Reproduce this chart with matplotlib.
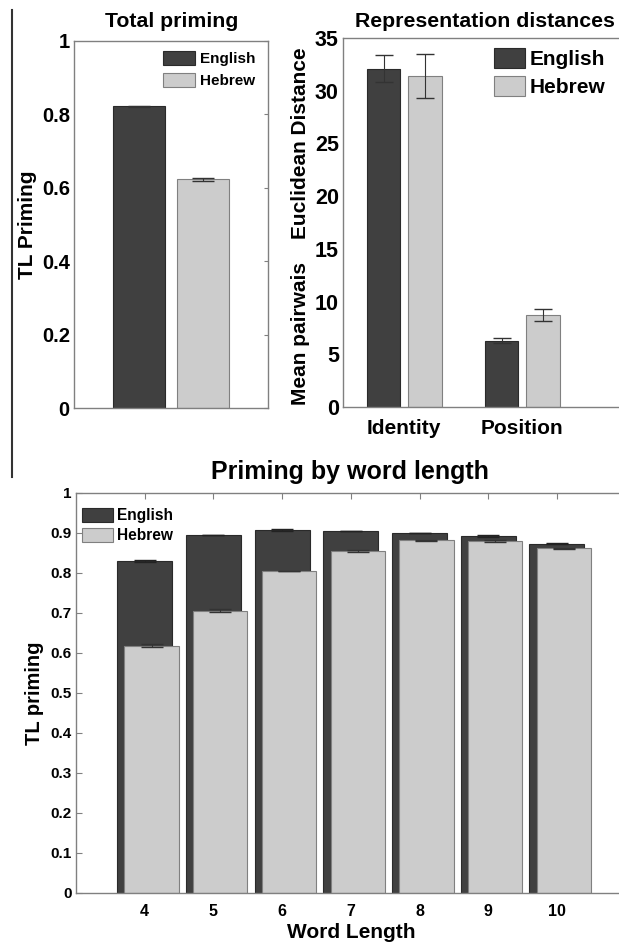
import matplotlib
matplotlib.use("Agg")
import matplotlib.pyplot as plt
from matplotlib.lines import Line2D
import numpy as np

plt.rcParams['font.family'] = ['Liberation Sans', 'DejaVu Sans']
plt.rcParams['font.weight'] = 'bold'

# ---- data ----
languages = ['English', 'Hebrew']
total_priming = [0.822, 0.623]
total_priming_err = [0.002, 0.005]

dist_groups = ['Identity', 'Position']
dist_english = [32.1, 6.3]
dist_english_err = [1.3, 0.2]
dist_hebrew = [31.4, 8.7]
dist_hebrew_err = [2.1, 0.55]

word_lengths = [4, 5, 6, 7, 8, 9, 10]
len_english = [0.830, 0.895, 0.908, 0.905, 0.900, 0.893, 0.873]
len_english_err = [0.002, 0.001, 0.002, 0.001, 0.001, 0.002, 0.001]
len_hebrew = [0.618, 0.706, 0.805, 0.855, 0.882, 0.880, 0.862]
len_hebrew_err = [0.004, 0.003, 0.001, 0.003, 0.001, 0.002, 0.001]

dark = '#404040'
light = '#cccccc'
spine_col = '#808080'
W, H = 619, 942


def px_axes(l, t, r, b):
    return [l / W, 1 - b / H, (r - l) / W, (b - t) / H]


def style_spines(ax):
    for s in ax.spines.values():
        s.set_color(spine_col)
        s.set_linewidth(1.0)


fig = plt.figure(figsize=(W / 100, H / 100), dpi=100)

# left separator line
fig.add_artist(Line2D([12 / W, 12 / W], [1 - 10 / H, 1 - 477 / H], color='#333333', lw=1.5))

# ---- top-left: total priming ----
ax1 = fig.add_axes(px_axes(74, 41, 268, 408))
ax1.set_axisbelow(True)
ax1.bar(1 - 0.165, total_priming[0], 0.268, color=dark, edgecolor='#2a2a2a', lw=0.8, label=languages[0])
ax1.bar(1 + 0.165, total_priming[1], 0.268, color=light, edgecolor='#808080', lw=0.8, label=languages[1])
ax1.errorbar([1 - 0.165, 1 + 0.165], total_priming, yerr=total_priming_err, fmt='none',
             ecolor='#333333', elinewidth=0.8, capsize=8)
ax1.set_xlim(0.5, 1.5)
ax1.set_ylim(0, 1)
ax1.set_xticks([])
ax1.set_yticks(np.arange(0, 1.01, 0.2))
ax1.set_yticklabels(['0', '0.2', '0.4', '0.6', '0.8', '1'], fontsize=14.5, fontweight='bold')
ax1.tick_params(axis='y', direction='in', left=False, right=True, length=3, color=spine_col, pad=3)
ax1.set_ylabel('TL Priming', fontsize=15, fontweight='bold')
ax1.yaxis.set_label_coords(-0.19, 0.5)
style_spines(ax1)
ax1.legend(loc='upper left', bbox_to_anchor=(0.459, 0.972), frameon=False,
           handlelength=2.1, handleheight=1.0, labelspacing=0.45, handletextpad=0.3,
           borderpad=0, borderaxespad=0, prop={'weight': 'bold', 'size': 11})
fig.text(172 / W, 1 - 27 / H, 'Total priming', ha='center', va='baseline', fontsize=15.3, fontweight='bold')

# ---- top-right: representation distances ----
ax2 = fig.add_axes(px_axes(343, 38, 640, 407))
ax2.set_axisbelow(True)
x2 = np.arange(1, len(dist_groups) + 1)
ax2.bar(x2 - 0.175, dist_english, 0.285, color=dark, edgecolor='#2a2a2a', lw=0.8, label=languages[0])
ax2.bar(x2 + 0.175, dist_hebrew, 0.285, color=light, edgecolor='#808080', lw=0.8, label=languages[1])
ax2.errorbar(x2 - 0.175, dist_english, yerr=dist_english_err, fmt='none', ecolor='#333333', elinewidth=0.8, capsize=6.5)
ax2.errorbar(x2 + 0.175, dist_hebrew, yerr=dist_hebrew_err, fmt='none', ecolor='#333333', elinewidth=0.8, capsize=6.5)
ax2.set_xlim(0.48, 3.0)
ax2.set_ylim(0, 35)
ax2.set_xticks(x2)
ax2.set_xticklabels(dist_groups, fontsize=15, fontweight='bold')
ax2.set_yticks(np.arange(0, 36, 5))
ax2.set_yticklabels([str(v) for v in range(0, 36, 5)], fontsize=15.5, fontweight='bold')
ax2.tick_params(axis='both', length=0)
ax2.tick_params(axis='y', pad=3)
ax2.tick_params(axis='x', pad=9)
ax2.set_ylabel('Mean pairwais    Euclidean Distance', fontsize=15, fontweight='bold')
ax2.yaxis.set_label_coords(-0.112, 0.49)
style_spines(ax2)
ax2.legend(loc='upper left', bbox_to_anchor=(0.508, 0.972), frameon=False,
           handlelength=1.5, handleheight=1.1, labelspacing=0.3, handletextpad=0.2,
           borderpad=0, borderaxespad=0, prop={'weight': 'bold', 'size': 15})
fig.text(485 / W, 1 - 27 / H, 'Representation distances', ha='center', va='baseline', fontsize=15.3, fontweight='bold')

# ---- bottom: priming by word length ----
ax3 = fig.add_axes(px_axes(76, 493, 625.6, 893))
ax3.set_axisbelow(True)
xl = np.array(word_lengths)
ax3.bar(xl, len_english, 0.8, color=dark, edgecolor='#2a2a2a', lw=0.8, label=languages[0])
ax3.errorbar(xl, len_english, yerr=len_english_err, fmt='none', ecolor='#222222', elinewidth=0.8, capsize=8)
ax3.bar(xl + 0.1, len_hebrew, 0.79, color=light, edgecolor='#808080', lw=0.8, label=languages[1])
ax3.errorbar(xl + 0.1, len_hebrew, yerr=len_hebrew_err, fmt='none', ecolor='#333333', elinewidth=0.8, capsize=8)
ax3.set_xlim(3, 11)
ax3.set_ylim(0, 1)
ax3.set_xticks(xl)
ax3.set_xticklabels([str(v) for v in word_lengths], fontsize=11.5, fontweight='bold')
ax3.set_yticks(np.arange(0, 1.01, 0.1))
ax3.set_yticklabels(['0', '0.1', '0.2', '0.3', '0.4', '0.5', '0.6', '0.7', '0.8', '0.9', '1'],
                    fontsize=11, fontweight='bold')
ax3.tick_params(axis='both', direction='in', length=4, color=spine_col, top=True, right=True, pad=8)
ax3.tick_params(axis='y', pad=3)
ax3.set_xlabel('Word Length', fontsize=15, fontweight='bold', labelpad=3)
ax3.set_ylabel('TL priming', fontsize=14.5, fontweight='bold')
ax3.yaxis.set_label_coords(-0.058, 0.5)
style_spines(ax3)
ax3.legend(loc='upper left', bbox_to_anchor=(0.011, 0.962), frameon=False,
           handlelength=2.0, handleheight=1.0, labelspacing=0.28, handletextpad=0.25,
           borderpad=0, borderaxespad=0, prop={'weight': 'bold', 'size': 11.2})
fig.text(350 / W, 1 - 479 / H, 'Priming by word length', ha='center', va='baseline', fontsize=18, fontweight='bold')

fig.savefig('out.png', dpi=100)
